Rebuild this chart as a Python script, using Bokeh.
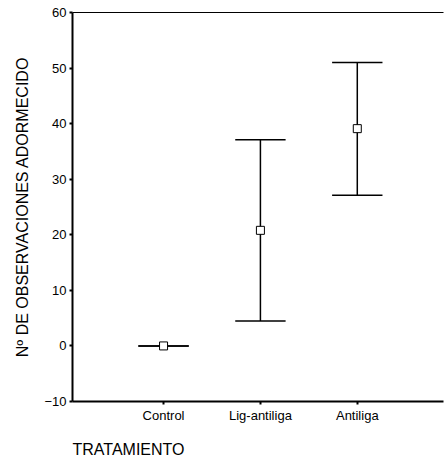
from bokeh.plotting import figure
from bokeh.models import Range1d, FixedTicker, LinearAxis, Title, ColumnDataSource
from bokeh.embed import file_html
from bokeh.resources import INLINE

categories = ["Control", "Lig-antiliga", "Antiliga"]
means = [0.0, 20.8, 39.1]
lower = [0.0, 4.5, 27.1]
upper = [0.0, 37.1, 51.0]
y_ticks = [-10, 0, 10, 20, 30, 40, 50, 60]

xpos = [i + 1 for i in range(len(categories))]
cap = 0.26
src = ColumnDataSource(dict(
    x=xpos, m=means, lo=lower, hi=upper,
    xl=[x - cap for x in xpos], xr=[x + cap for x in xpos],
))

FONT = "Liberation Sans"
p = figure(width=444, height=472, output_backend="svg", toolbar_location=None,
           x_range=Range1d(0.06, 3.89), y_range=Range1d(-10, 60),
           min_border_left=72, min_border_top=12, min_border_right=1,
           min_border_bottom=71)
p.outline_line_color = None
p.grid.visible = False
p.background_fill_color = "white"
p.border_fill_color = "white"

# stems and caps
p.segment(x0="x", y0="lo", x1="x", y1="hi", source=src, line_color="black", line_width=1.5)
p.segment(x0="xl", y0="hi", x1="xr", y1="hi", source=src, line_color="black", line_width=1.5)
p.segment(x0="xl", y0="lo", x1="xr", y1="lo", source=src, line_color="black", line_width=1.5)
p.scatter(x="x", y="m", source=src, marker="square", size=8, fill_color="white",
          line_color="black", line_width=1)

xa = p.xaxis[0]
xa.ticker = FixedTicker(ticks=xpos)
xa.major_label_overrides = {x: c for x, c in zip(xpos, categories)}
ya = p.yaxis[0]
ya.ticker = FixedTicker(ticks=y_ticks)
for ax in (xa, ya):
    ax.axis_line_width = 2
    ax.axis_line_color = "black"
    ax.major_tick_line_width = 2
    ax.major_tick_line_color = "black"
    ax.major_tick_in = 0
    ax.major_tick_out = 3
    ax.minor_tick_line_color = None
    ax.major_label_text_font = FONT
    ax.major_label_text_font_size = "13px"
    ax.major_label_text_color = "black"
    ax.major_label_standoff = 3
    ax.axis_label_text_font = FONT
    ax.axis_label_text_font_size = "16px"
    ax.axis_label_text_font_style = "normal"
    ax.axis_label_text_color = "black"
ya.axis_label = "Nº DE OBSERVACIONES ADORMECIDO"
ya.axis_label_standoff = 10

top = LinearAxis(ticker=FixedTicker(ticks=[]), major_label_text_font_size="0px",
                 axis_line_width=1, axis_line_color="black", minor_tick_line_color=None,
                 major_tick_line_color=None)
p.add_layout(top, "above")

# invisible spacer between the x axis and the x title
spacer = LinearAxis(ticker=FixedTicker(ticks=[]), major_label_text_font_size="0px",
                    major_label_standoff=0, axis_line_color=None,
                    major_tick_out=21, major_tick_in=0, major_tick_line_alpha=0,
                    minor_tick_out=0, minor_tick_line_color=None)
p.add_layout(spacer, "below")

t = Title(text="TRATAMIENTO", align="left", text_font=FONT, text_font_size="16px",
          text_font_style="normal", text_color="black", standoff=26)
p.add_layout(t, "below")

open("out.html", "w").write(file_html(p, INLINE))
